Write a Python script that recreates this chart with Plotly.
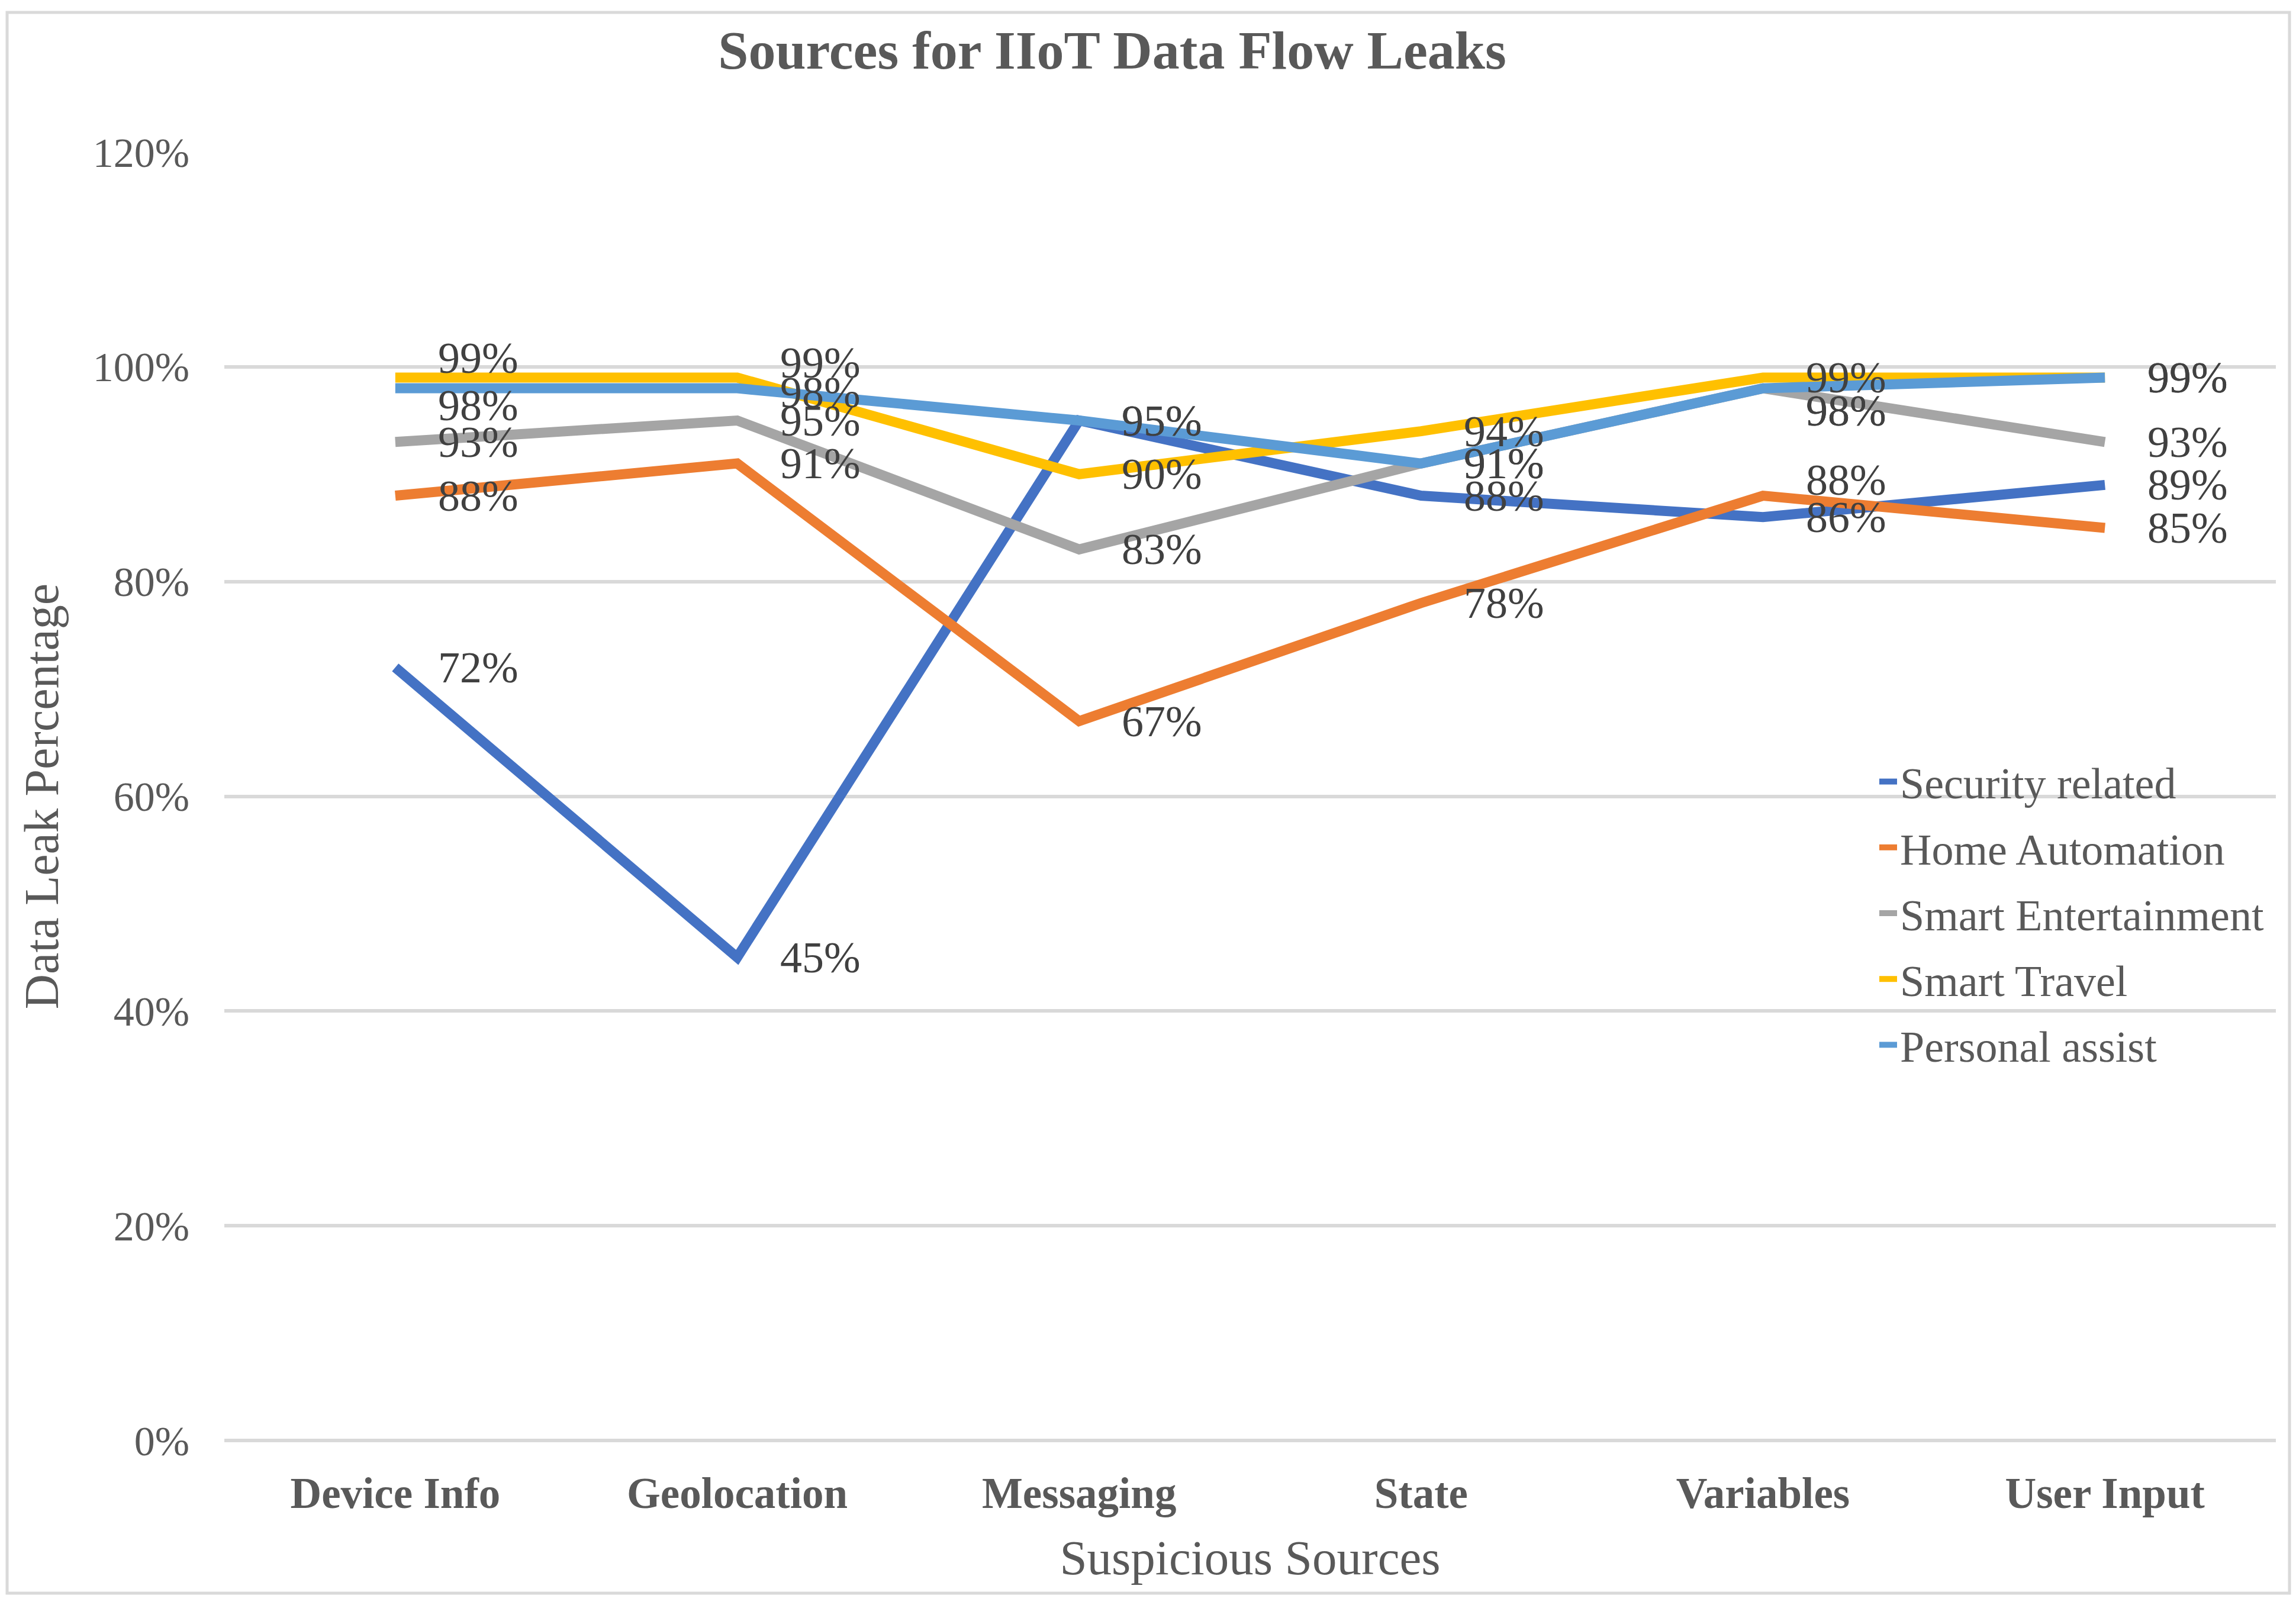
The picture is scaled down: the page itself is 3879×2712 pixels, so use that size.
import plotly.graph_objects as go

categories = ["Device Info", "Geolocation", "Messaging", "State", "Variables", "User Input"]
series_names = ["Security related", "Home Automation", "Smart Entertainment", "Smart Travel", "Personal assist"]
security_related = [72, 45, 95, 88, 86, 89]
home_automation = [88, 91, 67, 78, 88, 85]
smart_entertainment = [93, 95, 83, 91, 98, 93]
smart_travel = [99, 99, 90, 94, 99, 99]
personal_assist = [98, 98, 95, 91, 98, 99]
y_ticks = [0, 20, 40, 60, 80, 100, 120]

series_values = [security_related, home_automation, smart_entertainment, smart_travel, personal_assist]
colors = ["#4472C4", "#ED7D31", "#A5A5A5", "#FFC000", "#5B9BD5"]

# vertical nudges (px) for data labels that Excel moved to avoid overlaps: (series, category) -> px
label_nudges = {
    (3, 0): 33, (4, 0): -29,
    (3, 1): 25, (4, 1): -7,
    (4, 4): -38, (2, 4): -38, (1, 4): 27,
}

FONT = "Liberation Serif"
OFF = 8  # page body margin
W, H = 3879 - 2 * OFF, 2712 - 2 * OFF
L, T = 379 - OFF, 257 - OFF
R = W - (3845 - OFF)
B = H - (2434 - OFF)
pw, ph = W - L - R, H - T - B

fig = go.Figure()
for i, (name, vals) in enumerate(zip(series_names, series_values)):
    fig.add_trace(go.Scatter(
        x=categories, y=vals, name=name, mode="lines",
        line=dict(color=colors[i], width=17),
        legendgroup=name, hoverinfo="skip",
    ))

annotations = []
for i, vals in enumerate(series_values):
    for j, v in enumerate(vals):
        annotations.append(dict(
            x=categories[j], y=v, xref="x", yref="y", text=f"{v}%",
            showarrow=False, xanchor="left", yanchor="middle",
            xshift=70, yshift=label_nudges.get((i, j), 0),
            font=dict(family=FONT, size=74, color="#404040"),
        ))

def px_to_paper_x(px):
    return (px - L) / pw

def px_to_paper_y(py):
    return (H - B - py) / ph

fig.update_layout(
    width=W, height=H,
    margin=dict(l=L, r=R, t=T, b=B, autoexpand=False),
    paper_bgcolor="white", plot_bgcolor="white",
    title=dict(
        text="<b>Sources for IIoT Data Flow Leaks</b>",
        x=(1879 - OFF) / W, y=1 - 76 / H, xanchor="center", yanchor="middle",
        xref="container", yref="container",
        font=dict(family=FONT, size=92, color="#595959"),
    ),
    xaxis=dict(
        type="category", range=[-0.5, 5.5], showgrid=False, zeroline=False,
        showline=False, ticks="", ticklabelstandoff=40,
        tickfont=dict(family=FONT, size=73, color="#595959", weight="bold"),
        title=dict(text="Suspicious Sources", standoff=38,
                   font=dict(family=FONT, size=83, color="#595959")),
    ),
    yaxis=dict(
        range=[0, 120], tickvals=y_ticks, ticktext=[f"{t}%" for t in y_ticks],
        showgrid=True, gridcolor="#D9D9D9", gridwidth=6,
        zeroline=True, zerolinecolor="#D9D9D9", zerolinewidth=6,
        showline=False, ticks="", ticklabelstandoff=58,
        tickfont=dict(family=FONT, size=70, color="#595959"),
        title=dict(text="Data Leak Percentage", standoff=30,
                   font=dict(family=FONT, size=82, color="#595959")),
    ),
    legend=dict(
        x=px_to_paper_x(3162), y=px_to_paper_y(1258), xanchor="left", yanchor="top",
        font=dict(family=FONT, size=74, color="#595959"),
        bgcolor="rgba(0,0,0,0)", tracegroupgap=12, itemwidth=30,
        traceorder="grouped",
    ),
    annotations=annotations,
    shapes=[dict(
        type="rect", xref="paper", yref="paper",
        x0=px_to_paper_x(12 - OFF), x1=px_to_paper_x(3868 - OFF),
        y0=px_to_paper_y(2692 - OFF), y1=px_to_paper_y(21 - OFF),
        line=dict(color="#D9D9D9", width=5), fillcolor="rgba(0,0,0,0)", layer="below",
    )],
)

fig.write_html("out.html")
